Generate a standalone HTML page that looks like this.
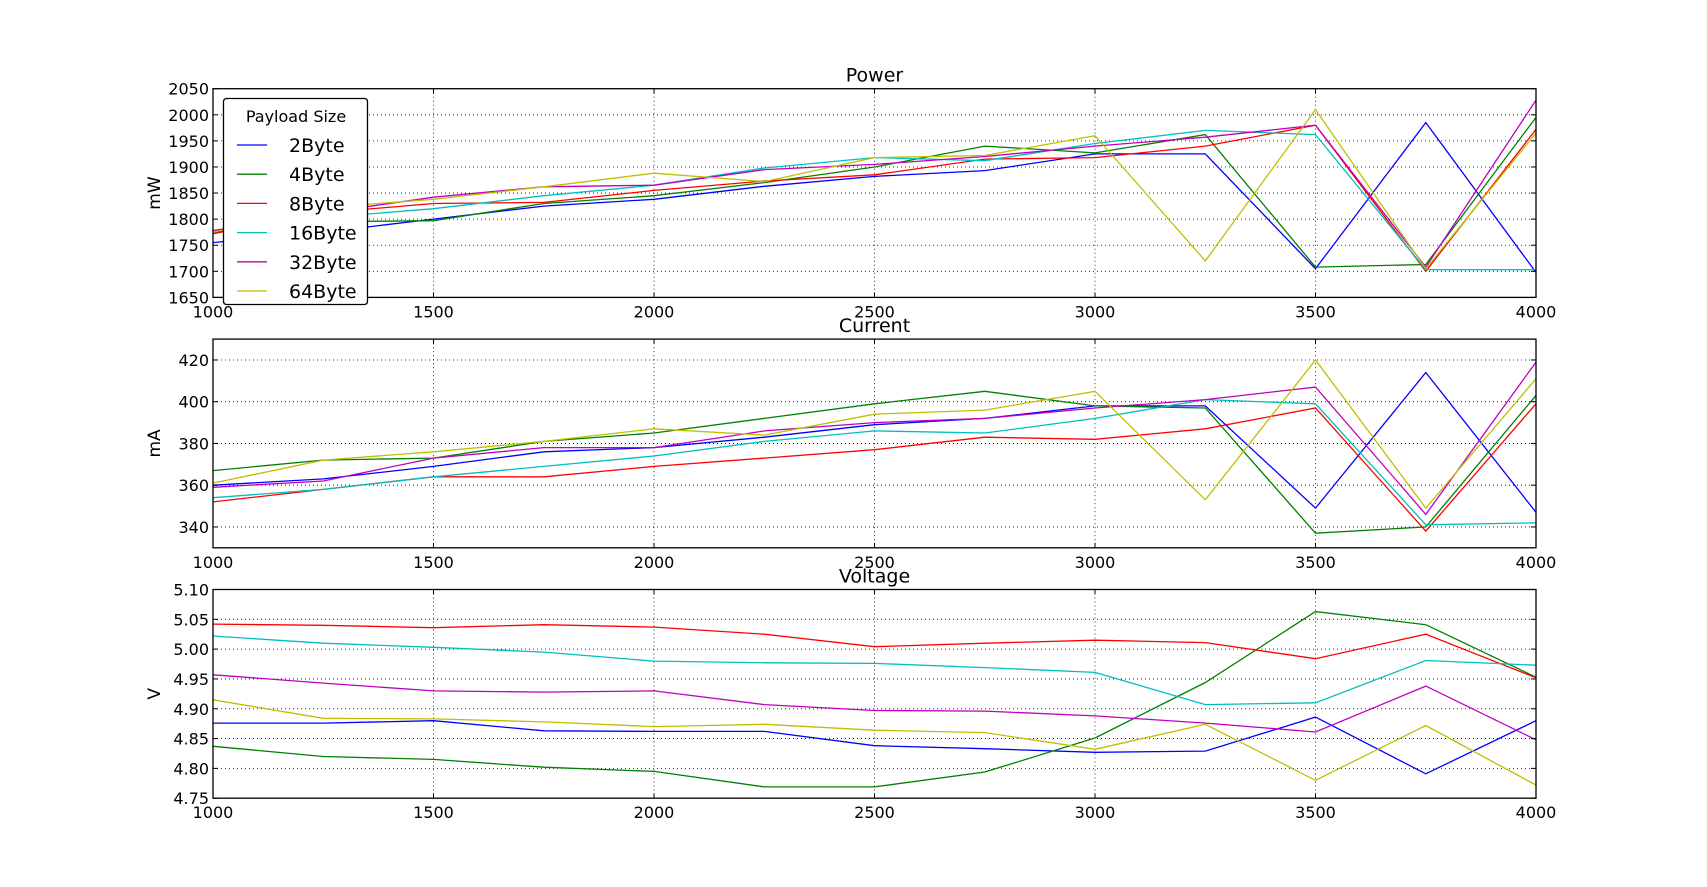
<!DOCTYPE html>
<html><head><meta charset="utf-8"><style>
html,body{margin:0;padding:0;background:#fff;}
svg{display:block;font-family:"DejaVu Sans","Liberation Sans",sans-serif;}
</style></head><body>
<svg id="fig" width="1707" height="887" viewBox="0 0 1707 887"></svg>
<script>
const xCats=[1000,1250,1500,1750,2000,2250,2500,2750,3000,3250,3500,3750,4000];
const xTicks=[1000,1500,2000,2500,3000,3500,4000];
const seriesNames=["2Byte","4Byte","8Byte","16Byte","32Byte","64Byte"];
const seriesColors=["#0000ff","#008000","#ff0000","#00bfbf","#bf00bf","#bfbf00"];
const power2=[1755,1775,1800,1825,1838,1863,1882,1893,1925,1925,1705,1985,1698];
const power4=[1775,1795,1797,1830,1845,1870,1900,1940,1927,1962,1708,1713,1995];
const power8=[1772,1812,1830,1832,1855,1873,1885,1915,1918,1940,1980,1700,1972];
const power16=[1778,1803,1820,1845,1865,1898,1918,1912,1945,1970,1962,1703,1703];
const power32=[1778,1812,1842,1862,1865,1895,1905,1920,1940,1957,1980,1708,2028];
const power64=[1775,1822,1838,1862,1888,1872,1918,1922,1960,1720,2010,1705,1965];
const powerTicks=[1650,1700,1750,1800,1850,1900,1950,2000,2050];
const current2=[360,363,369,376,378,383,389,392,398,398,349,414,347];
const current4=[367,372,373,381,385,392,399,405,398,397,337,340,403];
const current8=[352,358,364,364,369,373,377,383,382,387,397,338,399];
const current16=[354,358,364,369,374,381,386,385,392,401,399,341,342];
const current32=[359,362,373,378,378,386,390,392,397,401,407,346,419];
const current64=[361,372,376,381,387,384,394,396,405,353,420,349,411];
const currentTicks=[340,360,380,400,420];
const voltage2=[4.876,4.876,4.880,4.863,4.862,4.862,4.838,4.833,4.827,4.829,4.886,4.791,4.880];
const voltage4=[4.837,4.820,4.815,4.802,4.795,4.769,4.769,4.794,4.851,4.944,5.063,5.041,4.953];
const voltage8=[5.042,5.040,5.036,5.041,5.037,5.025,5.004,5.010,5.015,5.011,4.984,5.025,4.952];
const voltage16=[5.022,5.010,5.003,4.995,4.980,4.977,4.976,4.969,4.961,4.907,4.910,4.981,4.973];
const voltage32=[4.957,4.943,4.930,4.928,4.930,4.907,4.897,4.896,4.888,4.876,4.861,4.938,4.848];
const voltage64=[4.915,4.884,4.883,4.878,4.870,4.874,4.864,4.860,4.832,4.874,4.780,4.872,4.772];
const voltageTicks=[4.75,4.80,4.85,4.90,4.95,5.00,5.05,5.10];

const NS="http://www.w3.org/2000/svg";
const svg=document.getElementById('fig');
function mk(tag,attrs,parent){const e=document.createElementNS(NS,tag);for(const k in attrs)e.setAttribute(k,attrs[k]);(parent||svg).appendChild(e);return e;}
const L=213,R=1536;
const panels=[
 {title:"Power",ylabel:"mW",top:88.7,bot:297.4,ymin:1650,ymax:2050,ticks:powerTicks,fmt:v=>String(v),data:[power2,power4,power8,power16,power32,power64],key:"power"},
 {title:"Current",ylabel:"mA",top:339.1,bot:547.8,ymin:330,ymax:430,ticks:currentTicks,fmt:v=>String(v),data:[current2,current4,current8,current16,current32,current64],key:"current"},
 {title:"Voltage",ylabel:"V",top:589.5,bot:798.2,ymin:4.75,ymax:5.10,ticks:voltageTicks,fmt:v=>v.toFixed(2),data:[voltage2,voltage4,voltage8,voltage16,voltage32,voltage64],key:"voltage"}
];
const xs=v=>L+(v-1000)/3000*(R-L);
panels.forEach(p=>{
 const g=mk('g',{});
 
 
 const ys=v=>p.bot-(v-p.ymin)/(p.ymax-p.ymin)*(p.bot-p.top);
 // grid
 xTicks.forEach(t=>{const l=mk('line',{x1:xs(t),x2:xs(t),y1:p.top,y2:p.bot,stroke:'#000','stroke-width':0.8,'stroke-dasharray':'1,3'},g);
  });
 p.ticks.forEach(t=>{const l=mk('line',{x1:L,x2:R,y1:ys(t),y2:ys(t),stroke:'#000','stroke-width':0.8,'stroke-dasharray':'1,3'},g);
  });
 // series
 p.data.forEach((arr,i)=>{
  const pts=arr.map((v,j)=>xs(xCats[j]).toFixed(1)+','+ys(v).toFixed(1)).join(' ');
  const pl=mk('polyline',{points:pts,fill:'none',stroke:seriesColors[i],'stroke-width':1.3},g);
  
  
 });
 const fr=mk('rect',{x:L,y:p.top,width:R-L,height:p.bot-p.top,fill:'none',stroke:'#000','stroke-width':1.3},g);
 
 xTicks.forEach(t=>{
  mk('line',{x1:xs(t),x2:xs(t),y1:p.bot,y2:p.bot-5,stroke:'#000'},g);
  mk('line',{x1:xs(t),x2:xs(t),y1:p.top,y2:p.top+5,stroke:'#000'},g);
  const tx=mk('text',{x:xs(t),y:p.bot+20,'text-anchor':'middle','font-size':16},g);tx.textContent=t;
  
 });
 p.ticks.forEach(t=>{
  mk('line',{x1:L,x2:L+5,y1:ys(t),y2:ys(t),stroke:'#000'},g);
  mk('line',{x1:R,x2:R-5,y1:ys(t),y2:ys(t),stroke:'#000'},g);
  const tx=mk('text',{x:L-4,y:ys(t)+6,'text-anchor':'end','font-size':16},g);tx.textContent=p.fmt(t);
  
 });
 const ti=mk('text',{x:(L+R)/2,y:p.top-7,'text-anchor':'middle','font-size':19},g);ti.textContent=p.title;
 
 const yc=(p.top+p.bot)/2;
 const yl=mk('text',{x:160,y:yc,'text-anchor':'middle','font-size':17,transform:`rotate(-90 160 ${yc})`},g);yl.textContent=p.ylabel;
 
});
// legend
const lg=mk('g',{});


mk('rect',{x:223.5,y:98.5,width:144,height:206,rx:3,fill:'#fff',stroke:'#000','stroke-width':1.3},lg);
const lt=mk('text',{x:296,y:122,'text-anchor':'middle','font-size':16},lg);lt.textContent="Payload Size";

seriesNames.forEach((n,i)=>{
 const y=145+i*29.2;
 const e=mk('g',{},lg);
 
 
 mk('line',{x1:237,x2:267,y1:y,y2:y,stroke:seriesColors[i],'stroke-width':1.3},e);
 const t=mk('text',{x:289,y:y+7,'font-size':19},e);t.textContent=n;
});
</script>
</body></html>
